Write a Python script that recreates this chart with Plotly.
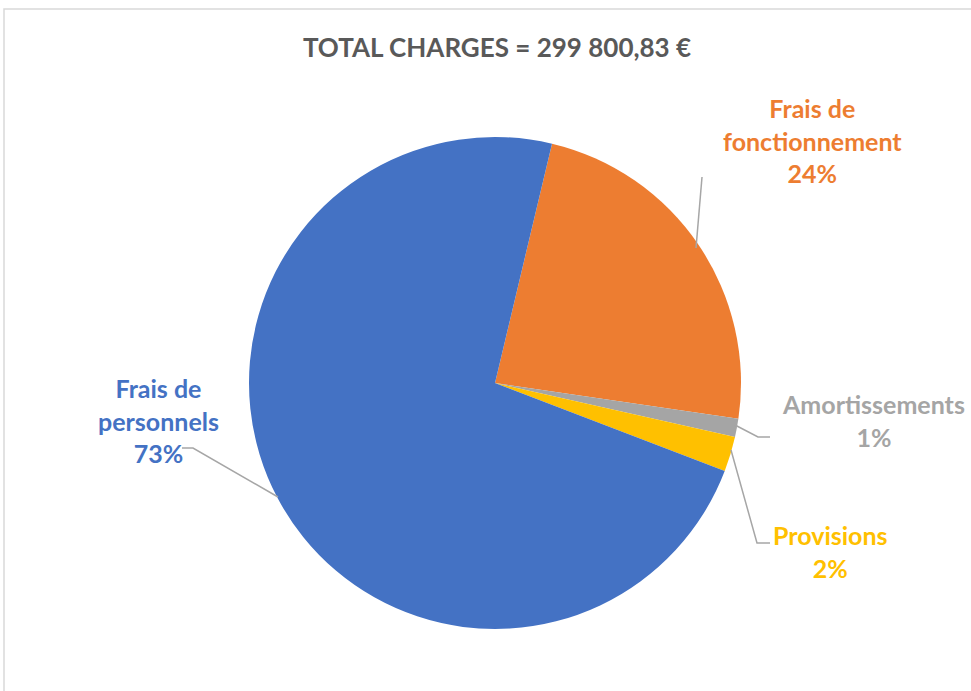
import plotly.graph_objects as go

# --- données
categories = ['Frais de fonctionnement', 'Amortissements', 'Provisions', 'Frais de personnels']
montants = [70753.00, 3598.00, 6895.00, 218554.83]
couleurs = ['#ED7D31', '#A5A5A5', '#FFC000', '#4472C4']

# libellés sur deux lignes (comme dans Excel)
libelles = ['Frais de<br>fonctionnement', 'Amortissements', 'Provisions', 'Frais de<br>personnels']

W, H = 971, 691
FONT = 'Lato'

total = sum(montants)
total_txt = f"{total:,.2f}".replace(',', ' ').replace('.', ',')


def px(x, y):
    # pixels ecran -> coordonnees papier
    return x / W, 1 - y / H


fig = go.Figure(data=[
    go.Pie(
        labels=categories,
        values=montants,
        sort=False,
        direction='clockwise',
        rotation=13.4,
        marker=dict(colors=couleurs, line=dict(width=0)),
        textinfo='none',
        hoverinfo='label+value+percent',
        showlegend=False,
        domain=dict(x=[px(249, 0)[0], px(741, 0)[0]], y=[px(0, 629)[1], px(0, 137)[1]]),
    )
])

# position des etiquettes (centre du texte, en pixels)
pos_etiquettes = [(812, 140), (873, 420), (830, 551), (158, 420)]

annotations = []
for lib, val, coul, (x, y) in zip(libelles, montants, couleurs, pos_etiquettes):
    pct = round(val / total * 100)
    xp, yp = px(x, y)
    annotations.append(dict(
        x=xp, y=yp, xref='paper', yref='paper',
        text=f"<b>{lib}<br>{pct}%</b>",
        showarrow=False, xanchor='center', yanchor='middle',
        font=dict(family=FONT, size=25, color=coul),
    ))

# lignes de repere
lignes = [
    [(702, 177), (696, 248)],
    [(735, 425), (758, 437), (770, 437)],
    [(731, 450), (757, 543), (770, 543)],
    [(278, 497), (193, 448), (182, 448)],
]
shapes = []
for pts in lignes:
    chemin = 'M ' + ' L '.join(f"{px(x, y)[0]:.5f},{px(x, y)[1]:.5f}" for x, y in pts)
    shapes.append(dict(type='path', path=chemin, xref='paper', yref='paper',
                       line=dict(color='#A6A6A6', width=1.5)))

# cadre de la zone de graphique
x0, y1 = px(4, 9)
shapes.append(dict(type='rect', xref='paper', yref='paper',
                   x0=x0, x1=1.02, y0=-0.02, y1=y1,
                   line=dict(color='#D9D9D9', width=1.5), fillcolor='rgba(0,0,0,0)'))

tx, ty = px(497, 48)
fig.update_layout(
    title=dict(text=f"<b>TOTAL CHARGES = {total_txt} €</b>",
               x=tx, xanchor='center', y=ty, yanchor='middle',
               font=dict(family=FONT, size=26, color='#595959')),
    width=W, height=H,
    margin=dict(l=0, r=0, t=0, b=0),
    paper_bgcolor='white',
    plot_bgcolor='white',
    annotations=annotations,
    shapes=shapes,
)

# pas de marge autour du graphique dans la page
fig.write_html("out.html", config={'displayModeBar': False},
               post_script="document.body.style.margin='0';")
